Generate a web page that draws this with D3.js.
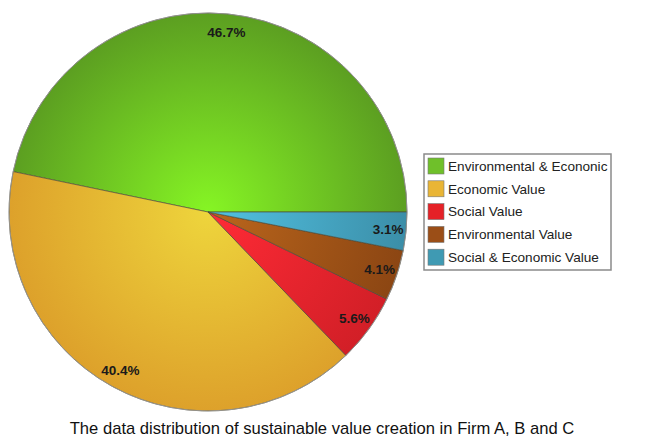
<!DOCTYPE html>
<meta charset="utf-8">
<head>
    <title>Sustainable value pie</title>
    <script src="https://d3js.org/d3.v7.min.js"></script>
    <style>
        body { margin: 0; background: #fff; }
        text { font-family: "Liberation Sans", Arial, sans-serif; }
    </style>
</head>
<body>
    <div id="chart"></div>
    <script>
        // data
        var categories = ["Environmental & Econonic", "Economic Value", "Social Value", "Environmental Value", "Social & Economic Value"];
        var values = [46.7, 40.4, 5.6, 4.1, 3.1];
        var innerColors = ["#86f524", "#eed53c", "#ff2b36", "#bb661c", "#52c2e2"];
        var outerColors = ["#5c9f21", "#dda12b", "#d21f27", "#8c4613", "#3b8ea8"];
        var legendColors = ["#6fc02a", "#e9b535", "#e52127", "#9b4e17", "#3f9ab3"];
        var title = "The data distribution of sustainable value creation in Firm A, B and C";

        var width = 647, height = 439;
        var cx = 208, cy = 212, radius = 199;

        var svg = d3.select("#chart").append("svg")
            .attr("width", width)
            .attr("height", height);

        // radial gradients, light in the middle, darker to the rim
        // (coordinates are in the pie group's space, so centred on 0,0)
        var defs = svg.append("defs");
        categories.forEach(function(c, i) {
            var g = defs.append("radialGradient")
                .attr("id", "grad" + i)
                .attr("gradientUnits", "userSpaceOnUse")
                .attr("cx", 0).attr("cy", 0).attr("r", radius);
            g.append("stop").attr("offset", "0%").attr("stop-color", innerColors[i]);
            g.append("stop").attr("offset", "100%").attr("stop-color", outerColors[i]);
        });

        // slices go counter clockwise from 3 o'clock
        var pie = d3.pie()
            .sort(null)
            .value(function(d) { return d; })
            .startAngle(Math.PI / 2)
            .endAngle(Math.PI / 2 - 2 * Math.PI);

        var arc = d3.arc().innerRadius(0).outerRadius(radius);
        var labelArc = d3.arc().innerRadius(181).outerRadius(181);

        var arcs = pie(values);

        var pieG = svg.append("g").attr("transform", "translate(" + cx + "," + cy + ")");

        pieG.selectAll("path")
            .data(arcs)
            .enter().append("path")
            .attr("d", arc)
            .attr("fill", function(d, i) { return "url(#grad" + i + ")"; })
            .attr("stroke", "#4a4a3a")
            .attr("stroke-width", 0.8)
            .attr("stroke-opacity", 0.8);

        pieG.append("circle")
            .attr("r", radius)
            .attr("fill", "none")
            .attr("stroke", "#999")
            .attr("stroke-width", 0.8);

        pieG.selectAll("text.lbl")
            .data(arcs)
            .enter().append("text")
            .attr("class", "lbl")
            .attr("transform", function(d) { return "translate(" + labelArc.centroid(d) + ")"; })
            .attr("text-anchor", "middle")
            .attr("dy", "0.35em")
            .style("font-size", "13.5px")
            .style("font-weight", "bold")
            .style("fill", "#1a1a1a")
            .text(function(d, i) { return d3.format(".1f")(values[i]) + "%"; });

        // legend
        var legend = svg.append("g").attr("transform", "translate(424,154)");
        legend.append("rect")
            .attr("width", 187).attr("height", 116)
            .attr("fill", "#fff")
            .attr("stroke", "#8a8a8a")
            .attr("stroke-width", 1.5);

        var rows = legend.selectAll("g.row")
            .data(categories)
            .enter().append("g")
            .attr("class", "row")
            .attr("transform", function(d, i) { return "translate(4," + (4 + i * 22.8) + ")"; });

        rows.append("rect")
            .attr("width", 16).attr("height", 16)
            .attr("fill", function(d, i) { return legendColors[i]; })
            .attr("stroke", "#777")
            .attr("stroke-width", 0.6);

        rows.append("text")
            .attr("x", 20).attr("y", 8)
            .attr("dy", "0.35em")
            .style("font-size", "13.6px")
            .style("fill", "#222")
            .text(function(d) { return d; });

        svg.append("text")
            .attr("x", 322).attr("y", 434)
            .attr("text-anchor", "middle")
            .style("font-size", "16.6px")
            .style("fill", "#111")
            .text(title);
    </script>
</body>
</html>
